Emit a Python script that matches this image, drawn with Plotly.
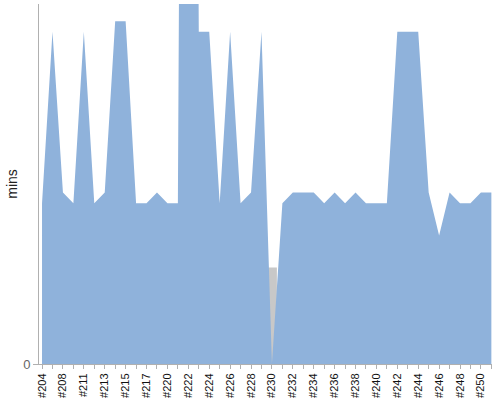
import plotly.graph_objects as go

# build ids, only every other one gets a label on the axis
builds = ["#204", "#206", "#208", "#209", "#211", "#212", "#213", "#214",
          "#215", "#216", "#217", "#219", "#220", "#221", "#222", "#223",
          "#224", "#225", "#226", "#227", "#228", "#229", "#230", "#231",
          "#232", "#233", "#234", "#235", "#236", "#237", "#238", "#239",
          "#240", "#241", "#242", "#243", "#244", "#245", "#246", "#247",
          "#248", "#249", "#250", "#251"]

# duration in minutes (#222 runs off the top of the chart)
mins = [15, 31, 16, 15, 31, 15, 16, 32, 32, 15, 15, 16, 15, 15, 200, 31,
        31, 15, 31, 15, 16, 31, 0, 15, 16, 16, 16, 15, 16, 15, 16, 15,
        15, 15, 31, 31, 31, 16, 12, 16, 15, 15, 16, 16]

# the grey stub under the failed build
gap_builds = ["#230"]
gap_mins = [9]

labels = [b if i % 2 == 0 else "" for i, b in enumerate(builds)]

fig = go.Figure()

fig.add_trace(go.Bar(
    x=gap_builds, y=gap_mins, width=0.95,
    marker=dict(color="#c8c8c8", line=dict(width=0)),
    hoverinfo="skip"
))

fig.add_trace(go.Scatter(
    x=builds, y=mins, mode="lines", fill="tozeroy",
    line=dict(color="#8fb2db", width=0),
    fillcolor="#8fb2db"
))

fig.update_layout(
    width=500, height=400,
    margin=dict(l=39, r=8, t=4, b=36, autoexpand=False),
    paper_bgcolor="white", plot_bgcolor="white",
    showlegend=False,
    font=dict(family="Liberation Sans, Arial, sans-serif", color="#333333"),
)

fig.update_xaxes(
    type="category", automargin=False,
    categoryorder="array", categoryarray=builds,
    range=[-0.29, 43.06],
    tickmode="array", tickvals=builds, ticktext=labels,
    tickangle=-90,
    ticks="outside", ticklen=4, tickcolor="#b0b0b0",
    showline=True, linecolor="#b0b0b0", linewidth=1,
    showgrid=False, zeroline=False,
    tickfont=dict(size=11, color="#111111"),
)

fig.update_yaxes(
    automargin=False,
    range=[0, 33.6],
    tickmode="array", tickvals=[0], ticktext=["0"],
    ticks="outside", ticklen=5, tickcolor="#b0b0b0",
    showline=True, linecolor="#b0b0b0", linewidth=1,
    showgrid=False, zeroline=False,
    tickfont=dict(size=13, color="#666666"),
    title=dict(text="mins", font=dict(size=14, color="#222222"), standoff=2),
)

# page has a default body margin, drop it so the chart sits at the corner
fig.write_html("out.html", config={"displayModeBar": False},
               post_script="document.body.style.margin='0';")
